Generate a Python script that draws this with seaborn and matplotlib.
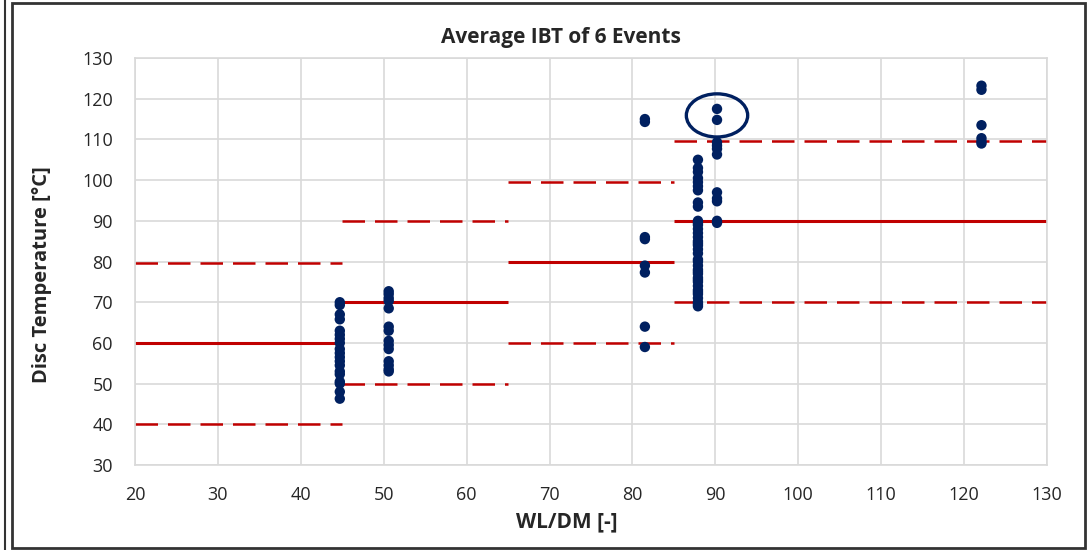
import matplotlib
matplotlib.use("Agg")

import matplotlib.pyplot as plt
import pandas as pd
import seaborn as sns
from matplotlib.patches import Ellipse, Rectangle
from matplotlib.lines import Line2D

# ===========================
# Data
# ===========================

x_45 = 44.7
temps_45 = [70, 69.3, 67, 65.8, 63, 62, 61, 60, 58.5, 57.5, 56.5, 55.5,
            54.5, 53, 52.3, 50.5, 50, 48, 46.3]

x_51 = 50.6
temps_51 = [72.7, 72, 71, 70.3, 68.5, 64, 63, 60.5, 59.5, 58.5, 55.5,
            54.5, 53.5, 53]

x_82 = 81.5
temps_82 = [115, 114.3, 86, 85.5, 79, 77.3, 64, 59]

x_88 = 87.9
temps_88 = [105, 103, 102, 100.5, 99.5, 98.5, 97.5, 94.5, 93.5, 90, 89.5,
            89, 88, 87, 86, 85, 84.5, 84, 83, 82, 80.5, 80, 79, 78, 77.5,
            77, 76, 75.5, 75, 74, 73, 72.5, 72, 71, 70, 69.5, 69]

x_90 = 90.2
temps_90 = [117.5, 114.8, 109.3, 108.5, 107.7, 106.3, 97, 95.5, 94.8,
            90, 89.5]

x_122 = 122.1
temps_122 = [123.2, 122.2, 113.5, 110.3, 109.5, 109]

# limit bands: segment start, segment end, target, lower, upper
band_start = [20, 45, 65, 85]
band_end = [45, 65, 85, 130]
band_target = [60, 70, 80, 90]
band_lower = [40, 50, 60, 70]
band_upper = [79.6, 90, 99.6, 109.6]

df = pd.concat([
    pd.DataFrame({"wl_dm": x, "temp": t})
    for x, t in [(x_45, temps_45), (x_51, temps_51), (x_82, temps_82),
                 (x_88, temps_88), (x_90, temps_90), (x_122, temps_122)]
])

# ===========================
# Chart Style
# ===========================

sns.set_style("white")
plt.rcParams["font.family"] = ["Open Sans", "DejaVu Sans"]

navy = "#002060"
red = "#C00000"
grid = "#D9D9D9"
text = "#262626"

fig = plt.figure(figsize=(10.89, 5.5), dpi=100)
ax = fig.add_axes([0.124, 0.1545, 0.8374, 0.74])

ax.set_xlim(20, 130)
ax.set_ylim(30, 130)
ax.set_xticks(range(20, 131, 10))
ax.set_yticks(range(30, 131, 10))
ax.grid(True, color=grid, linewidth=1.2)
ax.set_axisbelow(True)
for s in ax.spines.values():
    s.set_color(grid)
    s.set_linewidth(1.2)

# limit lines
ax.hlines(band_target, band_start, band_end, color=red, linewidth=2.2, zorder=2)
ax.hlines(band_lower, band_start, band_end, color=red, linewidth=1.8,
          linestyles=(0, (9, 4)), zorder=2)
ax.hlines(band_upper, band_start, band_end, color=red, linewidth=1.8,
          linestyles=(0, (9, 4)), zorder=2)

sns.scatterplot(
    data=df,
    x="wl_dm",
    y="temp",
    color=navy,
    s=56,
    edgecolor="none",
    ax=ax,
    zorder=3
)

ax.add_patch(Ellipse((90.2, 115.9), 7.4, 10.6, fill=False,
                     edgecolor=navy, linewidth=2.4, zorder=4))

ax.tick_params(axis="both", labelsize=13, colors=text, length=0)
ax.tick_params(axis="y", pad=16)
ax.tick_params(axis="x", pad=15)

ax.set_title("Average IBT of 6 Events", fontsize=15, fontweight="bold",
             color=text, x=0.467, pad=11)
ax.set_xlabel("WL/DM [-]", fontsize=15, fontweight="bold", color=text)
ax.set_ylabel("Disc Temperature [°C]", fontsize=14.5, fontweight="bold",
              color=text)
ax.xaxis.set_label_coords(0.474, -0.113)
ax.yaxis.set_label_coords(-0.091, 0.467)

# outer frame
fig.patches.append(Rectangle((12 / 1089, 2 / 550), 1073 / 1089, 545 / 550,
                             transform=fig.transFigure, fill=False,
                             edgecolor="#333333", linewidth=2))
fig.lines.append(Line2D([5 / 1089, 5 / 1089], [0, 1], transform=fig.transFigure,
                        color="#333333", linewidth=1.5))

plt.savefig("out.png", dpi=100)
plt.close()
